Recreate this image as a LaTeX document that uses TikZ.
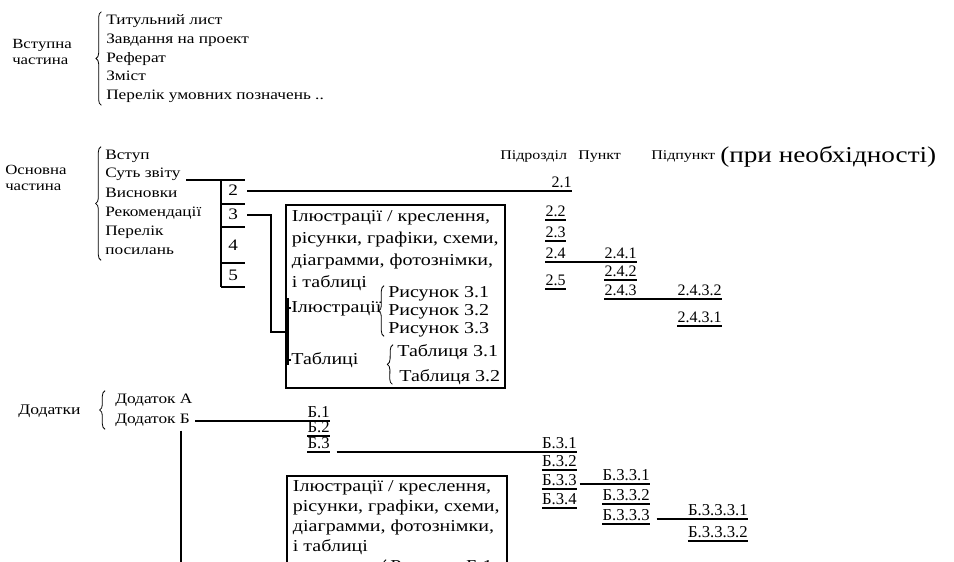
\documentclass[tikz,border=0pt]{standalone}
\usepackage{fontspec}
\setmainfont[FakeStretch=1.2]{Liberation Serif}
\newfontfamily\numfont{Liberation Serif}
\usetikzlibrary{decorations.pathreplacing}

\begin{document}
\begin{tikzpicture}[
  x=0.75pt, y=-0.75pt,
  part/.style={anchor=west, align=left, inner sep=0pt, font=\fontsize{10.5}{12}\selectfont},
  item/.style={anchor=west, inner sep=0pt, text height=7.5pt, text depth=2pt, font=\fontsize{10.8}{13}\selectfont},
  cell/.style={anchor=west, inner sep=0pt, text height=8pt, text depth=1pt, font=\fontsize{12}{14}\selectfont},
  head/.style={anchor=west, inner sep=0pt, font=\fontsize{10}{12}\selectfont},
  num/.style={anchor=south east, inner xsep=0pt, inner ysep=1.2pt, text height=8pt, text depth=1.2pt, font=\numfont\fontsize{12}{14}\selectfont},
  bnum/.style={num, font=\numfont\fontsize{12.5}{14}\selectfont},
  frame/.style={draw, line width=1.5pt, anchor=north west, inner sep=0pt},
  boxtext/.style={anchor=north west, align=left, inner sep=0pt, font=\fontsize{12.5}{16.3}\selectfont},
  fig/.style={anchor=west, inner sep=0pt, text height=8.5pt, text depth=2pt, font=\fontsize{12.5}{14}\selectfont},
  conn/.style={line width=1.4pt},
  uline/.style={line width=1pt},
  curly/.style={decorate, decoration={brace, amplitude=4pt}, line width=0.6pt},
  bar/.style={line width=2.4pt}
]
\path[use as bounding box, clip] (0,0) rectangle (954,561);

\node[part] (intro) at (12,52) {Вступна\\частина};
\node[item] (title) at (106,21) {Титульний лист};
\node[item] (task) at (106,40) {Завдання на проект};
\node[item] (abstr) at (106,59) {Реферат};
\node[item] (toc) at (106,77) {Зміст};
\node[item] (abbr) at (106,96) {Перелік умовних позначень ..};
\draw[curly] ([xshift=-3.5pt,yshift=-2pt]abbr.south west) -- ([xshift=-3.5pt,yshift=2pt]title.north west);

\node[part] (main) at (5,178) {Основна\\частина};
\node[item] (vstup) at (105,156) {Вступ};
\node[item] (sut) at (105,174) {Суть звіту};
\node[item] (visn) at (105,194) {Висновки};
\node[item] (rek) at (105,213) {Рекомендації};
\node[item] (perel) at (105,232) {Перелік};
\node[item] (posyl) at (105,251) {посилань};
\draw[curly] ([xshift=-3pt,yshift=-2pt]posyl.south west) -- ([xshift=-3pt,yshift=2pt]vstup.north west);

\coordinate (coltop) at (221,180);
\coordinate (colbot) at (221,287);
\draw[conn] ([xshift=4pt]sut.east |- coltop) -- ([xshift=18pt]coltop);
\draw[conn] (coltop) -- (colbot);
\foreach \y in {204,227,263,287} \draw[conn] (221,\y) -- (245,\y);
\node[cell] (two) at (228,191) {2};
\node[cell] (three) at (228,215) {3};
\node[cell] (four) at (228,246) {4};
\node[cell] (five) at (228,276) {5};

\node[frame, minimum width=164pt, minimum height=137pt] (box1) at (285,204) {};
\node[boxtext] (box1txt) at ([xshift=5pt,yshift=-5pt]box1.north west) {Ілюстрації / креслення,\\рісунки, графіки, схеми,\\діаграмми, фотознімки,\\і таблиці};
\node[fig] (ill) at (291,308) {Ілюстрації};
\node[fig] (fig1) at (388,293) {Рисунок 3.1};
\node[fig] (fig2) at (388,311) {Рисунок 3.2};
\node[fig] (fig3) at (388,329) {Рисунок 3.3};
\draw[curly] ([xshift=-3pt]fig3.south west) -- ([xshift=-3pt]fig1.north west);
\node[fig] (tab) at (291,360) {Таблиці};
\node[fig] (tab1) at (397,352) {Таблиця 3.1};
\node[fig] (tab2) at (399,377) {Таблиця 3.2};
\draw[curly] ([xshift=-5pt]tab2.south west) -- ([xshift=-3pt]tab1.north west);

\coordinate (barmid) at (287,332);
\coordinate (bend3) at (271,332);
\draw[bar] (287,298) -- (287,365);
\draw[conn] (ill.west) -- (ill.west -| barmid);
\draw[conn] (tab.west) -- (tab.west -| barmid);
\draw[conn] ([xshift=7pt]three.east) -| (bend3) -- (barmid);

\node[head] (hsub) at (500,157) {Підрозділ};
\node[head] (hitem) at (578,157) {Пункт};
\node[head] (hsubitem) at (651,157) {Підпункт};
\node[head, font=\fontsize{17}{20}\selectfont] (hnote) at (720,157) {(при необхідності)};

\node[num] (s21) at (572,191) {2.1};
\node[num] (s22) at (566,220) {2.2};
\node[num] (s23) at (566,241) {2.3};
\node[num] (s24) at (566,262) {2.4};
\node[num] (s25) at (566,289) {2.5};
\node[num] (s241) at (637,262) {2.4.1};
\node[num] (s242) at (637,280) {2.4.2};
\node[num] (s243) at (637,299) {2.4.3};
\node[num] (s2432) at (722,299) {2.4.3.2};
\node[num] (s2431) at (722,326) {2.4.3.1};

\draw[conn] ([xshift=7pt]two.east) -- (s21.south east);
\draw[conn] (s24.south east) -- (s241.south east);
\draw[conn] (s243.south east) -- (s2432.south east);

\node[part, font=\fontsize{11}{13}\selectfont] (appx) at (18,411) {Додатки};
\node[item] (appA) at (115,400) {Додаток А};
\node[item] (appB) at (115,420) {Додаток Б};
\draw[curly] ([xshift=-7.5pt,yshift=-2pt]appB.south west) -- ([xshift=-7.5pt,yshift=2pt]appA.north west);
\coordinate (appBdown) at (181,575);
\draw[conn] ([yshift=-3pt]appB.south -| appBdown) -- (appBdown);

\node[bnum] (b1) at (330,421) {Б.1};
\node[bnum] (b2) at (330,436) {Б.2};
\node[bnum] (b3) at (330,452) {Б.3};
\node[bnum] (b31) at (577,452) {Б.3.1};
\node[bnum] (b32) at (577,470) {Б.3.2};
\node[bnum] (b33) at (577,489) {Б.3.3};
\node[bnum] (b34) at (577,508) {Б.3.4};
\node[bnum] (b331) at (650,484) {Б.3.3.1};
\node[bnum] (b332) at (650,504) {Б.3.3.2};
\node[bnum] (b333) at (650,524) {Б.3.3.3};
\node[bnum] (b3331) at (748,519) {Б.3.3.3.1};
\node[bnum] (b3332) at (748,541) {Б.3.3.3.2};

\draw[conn] ([xshift=4pt]appB.east |- b1.south) -- (b1.south east);
\draw[conn] ([xshift=5pt]b3.south east) -- (b31.south east);
\draw[conn] ([xshift=2pt]b33.east |- b331.south) -- (b331.south east);
\draw[conn] ([xshift=5pt]b333.east |- b3331.south) -- (b3331.south east);

\foreach \n in {s22,s23,s24,s25,s242,s243,s2431,b2,b3,b32,b33,b34,b332,b333,b3332}
  \draw[uline] (\n.south west) -- (\n.south east);

\node[frame, minimum width=165pt, minimum height=120pt] (box2) at (286,475) {};
\node[boxtext, font=\fontsize{12.5}{15}\selectfont] (box2txt) at ([xshift=5pt,yshift=-4pt]box2.north west) {Ілюстрації / креслення,\\рісунки, графіки, схеми,\\діаграмми, фотознімки,\\і таблиці};
\node[fig] (figB1) at (390,567) {Рисунок Б.1};
\draw[curly] ([xshift=-3pt,yshift=-20pt]figB1.west) -- ([xshift=-3pt]figB1.north west);
\end{tikzpicture}
\end{document}
